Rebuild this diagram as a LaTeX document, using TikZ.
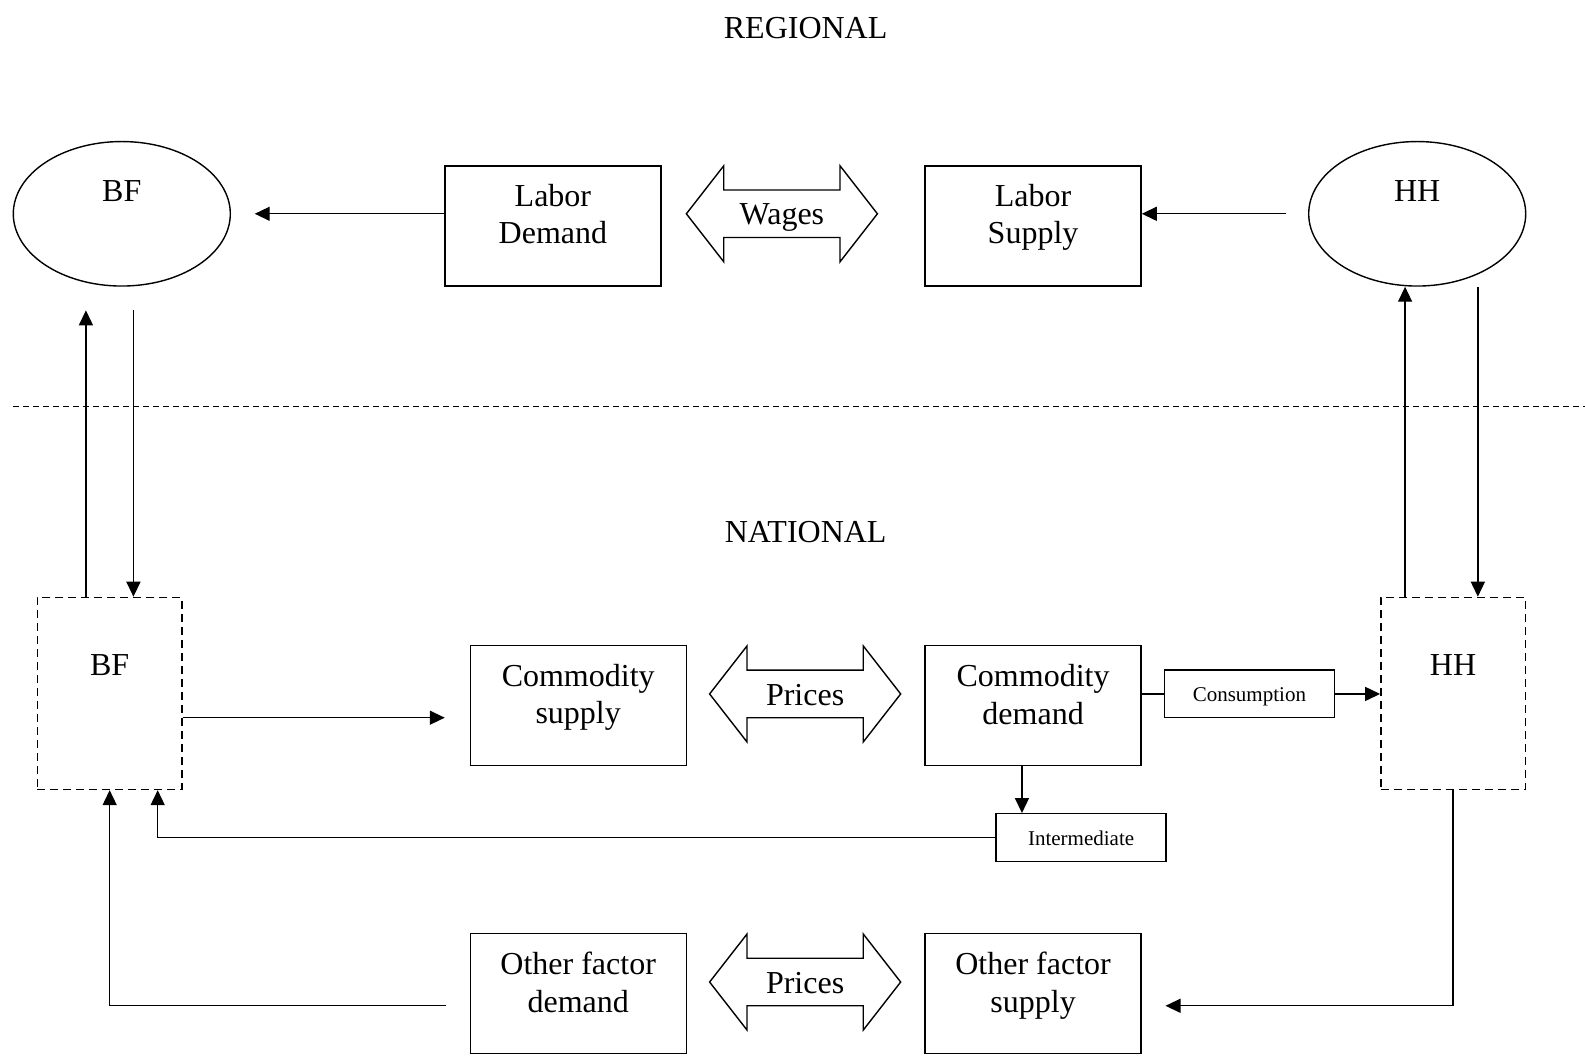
\documentclass[tikz,border=0pt]{standalone}
\usepackage{fontspec}
\setmainfont{Liberation Serif}
\usetikzlibrary{arrows.meta,calc,shapes.geometric}
\begin{document}
\begin{tikzpicture}[x=1.0108pt,y=-1.0108pt,
  every node/.style={font=\fontsize{32}{37.5}\selectfont, inner sep=0pt, align=center},
  ln/.style={line width=1.4pt},
  arr/.style={ln, -{Triangle[length=15pt,width=14pt]}},
  box/.style={draw, ln, minimum width=216pt, minimum height=120pt},
  ell/.style={draw, ln, ellipse, minimum width=217pt, minimum height=144.5pt},
  dbox/.style={draw, ln, dash pattern=on 8pt off 5pt, minimum width=144.5pt, minimum height=192pt},
  sbox/.style={draw, ln, minimum width=170pt, minimum height=47.5pt, font=\fontsize{21}{25}\selectfont},
  dblarrow/.style={draw, ln, line join=miter}]
\useasboundingbox (0,0) rectangle (1568,1052);

% titles
\node (regional) at (797,28) {REGIONAL};
\node (national) at (797,526) {NATIONAL};
\draw[line width=1.7pt, dash pattern=on 6pt off 4pt] (13,402) coordinate (dl) -- (1568,402) coordinate (dr);

% regional
\node[ell] (bfr) at (120.5,211.5) {};
\node (bfrt) at (120.5,189) {BF};
\node[ell] (hhr) at (1402,211.5) {};
\node (hhrt) at (1402,189) {HH};
\node[box] (ld) at (547,223.5) {};
\node (ldt) at (547,212) {Labor\\Demand};
\node[box] (ls) at (1022,223.5) {};
\node (lst) at (1022,215) {Labor\\Supply};

% double arrows
\newcommand{\dblarr}[1]{%
  \draw[dblarrow] (#1) ++(-94.5,0) -- ++(37,-47.5) -- ++(0,24) -- ++(115,0) -- ++(0,-24)
    -- ++(37,47.5) -- ++(-37,47.5) -- ++(0,-24) -- ++(-115,0) -- ++(0,24) -- cycle;}
\coordinate (wc) at (773.5,211.5);
\dblarr{wc}
\node (wages) at (773.5,215.5) {Wages};

% national
\node[dbox] (bfb) at (108.5,686) {};
\node (bfbt) at (108.5,658) {BF};
\node[dbox] (hhb) at (1437.5,686) {};
\node (hhbt) at (1437.5,658) {HH};
\node[box] (cs) at (572,698) {};
\node (cst) at (572,690) {Commodity\\supply};
\node[box] (cd) at (1022,698) {};
\node (cdt) at (1022,687) {Commodity\\demand};
\coordinate (pc1) at (796.5,686.5);
\dblarr{pc1}
\node (prices1) at (796.5,688) {Prices};
\node[sbox] (cons) at (1236,686.5) {};
\node (const) at (1236,689.5) {\fontsize{21}{25}\selectfont Consumption};
\node[sbox] (inter) at (1069.5,828.5) {};
\node (intert) at (1069.5,829.5) {\fontsize{21}{25}\selectfont Intermediate};
\node[box] (ofd) at (572,983) {};
\node (ofdt) at (572,972) {Other factor\\demand};
\node[box] (ofs) at (1022,983) {};
\node (ofst) at (1022,975) {Other factor\\supply};
\coordinate (pc2) at (796.5,971.5);
\dblarr{pc2}
\node (prices2) at (796.5,973) {Prices};

% connectors regional
\coordinate (c1) at (252,211.5);
\draw[arr] (c1 -| ld.west) -- (c1);
\coordinate (c2) at (1272,211.5);
\draw[arr] (c2) -- (c2 -| ls.east);

% vertical links
\coordinate (bfup) at (85,307);
\draw[arr] (bfup |- bfb.north) -- (bfup);
\coordinate (bfdn) at (132,307);
\draw[arr] (bfdn) -- (bfdn |- bfb.north);
\coordinate (hx1) at (1390,400);
\draw[arr] (hx1 |- hhb.north) -- (hx1 |- hhr.south);
\coordinate (hx2) at (1462,400);
\draw[arr] (hx2 |- hhr.south) -- (hx2 |- hhb.north);

% national connectors
\coordinate (bfo) at (440,710);
\draw[arr] (bfo -| bfb.east) -- (bfo);
\draw[ln] (cd.east |- cons.west) -- (cons.west);
\draw[arr] (cons.east) -- (cons.east -| hhb.west);
\coordinate (ix) at (1011,760);
\draw[arr] (ix |- cd.south) -- (ix |- inter.north);
\coordinate (bx2) at (156,829);
\draw[arr] (inter.west) -- (inter.west -| bx2) -- (bx2 |- bfb.south);
\coordinate (ofl) at (441,995);
\draw[arr] (ofl) -| (bfb.south);
\coordinate (ofr) at (1153,995);
\draw[arr] (hhb.south) |- (ofr);
\end{tikzpicture}
\end{document}
